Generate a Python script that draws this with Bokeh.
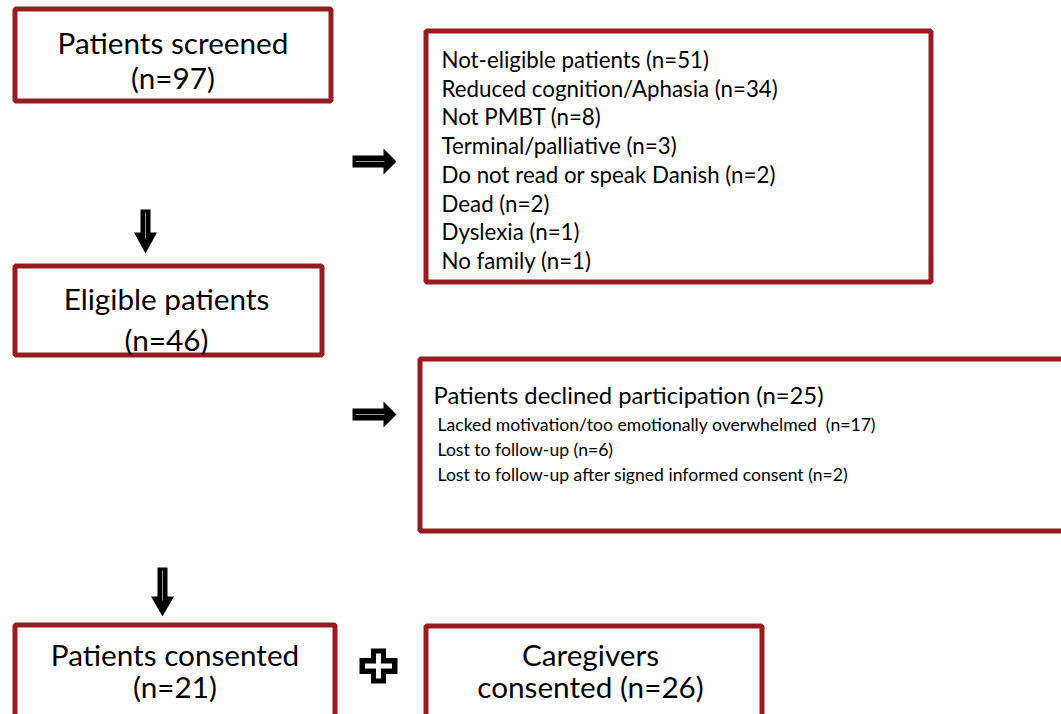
from bokeh.plotting import figure
from bokeh.models import Range1d
from bokeh.core.properties import value
from bokeh.embed import file_html
from bokeh.resources import INLINE

# ---------------- data ----------------
stages = ["Patients screened", "Eligible patients", "Patients consented", "Caregivers consented"]
stage_n = [97, 46, 21, 26]
excluded_title = "Not-eligible patients"
excluded_n = 51
excluded_reasons = ["Reduced cognition/Aphasia", "Not PMBT", "Terminal/palliative",
                    "Do not read or speak Danish", "Dead", "Dyslexia", "No family"]
excluded_reason_n = [34, 8, 3, 2, 2, 1, 1]
declined_title = "Patients declined participation"
declined_n = 25
declined_reasons = ["Lacked motivation/too emotionally overwhelmed\u00a0",
                    "Lost to follow-up",
                    "Lost to follow-up after signed informed consent"]
declined_reason_n = [17, 6, 2]

# ---------------- layout (pixels of the page) ----------------
RED = "#961c22"
FONT = value("Lato")
BW = 5

W, H = 1061, 714
p = figure(width=W, height=H, output_backend="svg", toolbar_location=None,
           x_range=Range1d(0, W), y_range=Range1d(H, 0),
           min_border=0, outline_line_color=None, background_fill_color="white",
           border_fill_color="white")
p.axis.visible = False
p.grid.visible = False

# outer box edges: left, top, right, bottom
boxes = [(12, 6, 333, 103),     # screened
         (423, 28, 933, 284),   # not eligible
         (12, 263, 324, 357),   # eligible
         (417, 356, 1075, 533), # declined
         (12, 622, 337, 730),   # patients consented
         (423, 623, 764, 730)]  # caregivers consented
h = BW / 2
p.quad(left=[b[0] + h for b in boxes], right=[b[2] - h for b in boxes],
       top=[b[1] + h for b in boxes], bottom=[b[3] - h for b in boxes],
       fill_color="white", line_color=RED, line_width=BW)

# main stage texts (two lines each)
stage_line1 = [stages[0], stages[1], stages[2], "Caregivers"]
stage_line2 = ["(n=%d)" % stage_n[0], "(n=%d)" % stage_n[1], "(n=%d)" % stage_n[2],
               "consented (n=%d)" % stage_n[3]]
stage_cx = [172.5, 166, 174.5, 590]
BIG_OFF = 11
stage_y1 = [53 - BIG_OFF, 309 - BIG_OFF, 665 - BIG_OFF, 665 - BIG_OFF]
stage_y2 = [88 - BIG_OFF, 350 - BIG_OFF, 697 - BIG_OFF, 697 - BIG_OFF]
p.text(x=stage_cx, y=stage_y1, text=stage_line1, text_font=FONT, text_font_size="29.7px",
       text_align="center", text_baseline="alphabetic", text_color="black")
p.text(x=stage_cx, y=stage_y2, text=stage_line2, text_font=FONT, text_font_size="29.7px",
       text_align="center", text_baseline="alphabetic", text_color="black")

# excluded list
ex_lines = ["%s (n=%d)" % (excluded_title, excluded_n)] + \
           ["%s (n=%d)" % (r, n) for r, n in zip(excluded_reasons, excluded_reason_n)]
ex_y = [67 - 8 + 28.7 * i for i in range(len(ex_lines))]
p.text(x=[441] * len(ex_lines), y=ex_y, text=ex_lines, text_font=FONT, text_font_size="22.3px",
       text_align="left", text_baseline="alphabetic", text_color="black")

# declined
p.text(x=[433], y=[403 - 9], text=["%s (n=%d)" % (declined_title, declined_n)], text_font=FONT,
       text_font_size="23.8px", text_align="left", text_baseline="alphabetic", text_color="black")
dl = ["%s (n=%d)" % (r, n) for r, n in zip(declined_reasons, declined_reason_n)]
p.text(x=[437] * 3, y=[430 - 6.5, 455 - 6.5, 480 - 6.5], text=dl, text_font=FONT,
       text_font_size="17.6px", text_align="left", text_baseline="alphabetic", text_color="black")

# arrows
def right_arrow(x0, hx, tx, cy, sw=6, hw=13):
    return ([x0, hx, hx, tx, hx, hx, x0], [cy - sw, cy - sw, cy - hw, cy, cy + hw, cy + sw, cy + sw])

def down_arrow(cx, y0, hy, ty, sw=5, hw=11.5):
    return ([cx - sw, cx + sw, cx + sw, cx + hw, cx, cx - hw, cx - sw], [y0, y0, hy, hy, ty, hy, hy])

arrows = [right_arrow(352, 383, 396, 161), right_arrow(352, 383, 396, 414),
          down_arrow(145, 209, 232, 253), down_arrow(162, 567, 596, 616)]
p.patches(xs=[a[0] for a in arrows], ys=[a[1] for a in arrows],
          fill_color="black", line_color=None)
# thin light line in the shafts
p.multi_line(xs=[[355, 384], [355, 384], [145, 145], [162, 162]],
             ys=[[161, 161], [414, 414], [212, 238], [570, 600]],
             line_color="#9a9a9a", line_width=1)

# plus sign
def cross(cx, cy, a, b, w, wv):
    xs = [cx - w, cx + w, cx + w, cx + a, cx + a, cx + w, cx + w, cx - w, cx - w, cx - a, cx - a, cx - w]
    ys = [cy - b, cy - b, cy - wv, cy - wv, cy + wv, cy + wv, cy + b, cy + b, cy + wv, cy + wv, cy - wv, cy - wv]
    return xs, ys

ox, oy = cross(378, 665.5, 19, 17.5, 7.5, 8)
ix, iy = cross(378, 665.5, 13.5, 12.5, 2.5, 2.5)
p.patch(ox, oy, fill_color="black", line_color=None)
p.patch(ix, iy, fill_color="white", line_color=None)

open("out.html", "w").write(file_html(p, INLINE))
